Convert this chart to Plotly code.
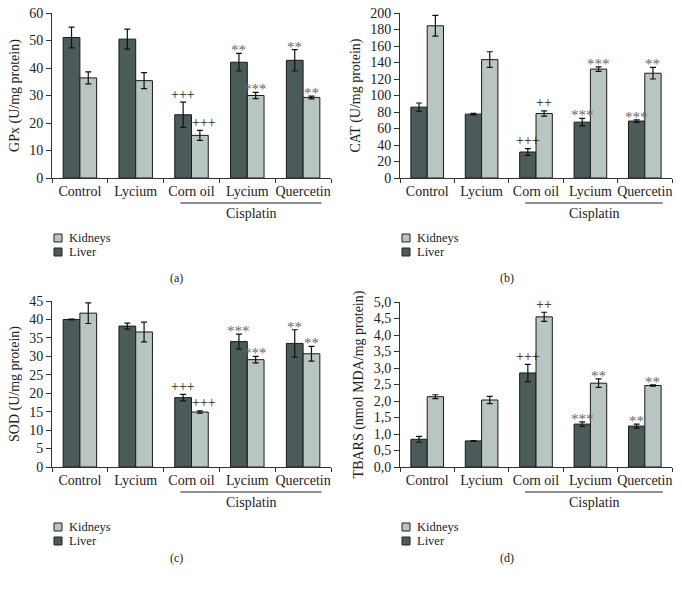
import plotly.graph_objects as go

categories = ["Control", "Lycium", "Corn oil", "Lycium", "Quercetin"]
series_names = ["Liver", "Kidneys"]

gpx_liver = [51.1, 50.5, 23.0, 42.1, 42.8]
gpx_liver_err = [3.8, 3.6, 4.6, 3.2, 3.9]
gpx_kidney = [36.4, 35.4, 15.5, 30.0, 29.3]
gpx_kidney_err = [2.2, 2.9, 1.8, 1.1, 0.5]
gpx_liver_sig = ["", "", "+++", "**", "**"]
gpx_kidney_sig = ["", "", "+++", "***", "**"]

cat_liver = [85.9, 77.4, 31.5, 67.7, 69.0]
cat_liver_err = [5.0, 1.0, 4.0, 4.6, 1.5]
cat_kidney = [184.5, 143.5, 78.2, 132.0, 127.0]
cat_kidney_err = [12.5, 9.5, 3.2, 2.8, 7.0]
cat_liver_sig = ["", "", "+++", "***", "***"]
cat_kidney_sig = ["", "", "++", "***", "**"]

sod_liver = [40.0, 38.2, 18.8, 34.0, 33.5]
sod_liver_err = [0.1, 0.8, 0.9, 2.0, 3.7]
sod_kidney = [41.7, 36.6, 14.9, 29.1, 30.7]
sod_kidney_err = [2.8, 2.7, 0.3, 0.9, 2.0]
sod_liver_sig = ["", "", "+++", "***", "**"]
sod_kidney_sig = ["", "", "+++", "***", "**"]

tbars_liver = [0.84, 0.79, 2.85, 1.30, 1.24]
tbars_liver_err = [0.09, 0.01, 0.26, 0.07, 0.06]
tbars_kidney = [2.13, 2.03, 4.55, 2.54, 2.47]
tbars_kidney_err = [0.06, 0.11, 0.14, 0.13, 0.02]
tbars_liver_sig = ["", "", "+++", "***", "**"]
tbars_kidney_sig = ["", "", "++", "**", "**"]

ticks_a = [0, 10, 20, 30, 40, 50, 60]
ticks_b = [0, 20, 40, 60, 80, 100, 120, 140, 160, 180, 200]
ticks_c = [0, 5, 10, 15, 20, 25, 30, 35, 40, 45]
ticks_d = [0, 0.5, 1.0, 1.5, 2.0, 2.5, 3.0, 3.5, 4.0, 4.5, 5.0]
ticks_d_text = ["0,0", "0,5", "1,0", "1,5", "2,0", "2,5", "3,0", "3,5", "4,0", "4,5", "5,0"]

titles = ["GPx (U/mg protein)", "CAT (U/mg protein)", "SOD (U/mg protein)",
          "TBARS (nmol MDA/mg protein)"]
panel_labels = ["(a)", "(b)", "(c)", "(d)"]

LIVER = "#4b5b59"
KIDNEY = "#b8c5c2"
FONT = "Liberation Serif"
TXT = "#222"
W, H = 682, 591  # page body margin is removed below, so the figure fills the window


def px(x):
    return x / W


def py(y):
    return 1 - y / H


panels = [
    dict(liver=gpx_liver, le=gpx_liver_err, kid=gpx_kidney, ke=gpx_kidney_err,
         ls=gpx_liver_sig, ks=gpx_kidney_sig, ticks=ticks_a, ttext=None, rng=[0, 60],
         xpx=(52, 331), ypx=(13, 178)),
    dict(liver=cat_liver, le=cat_liver_err, kid=cat_kidney, ke=cat_kidney_err,
         ls=cat_liver_sig, ks=cat_kidney_sig, ticks=ticks_b, ttext=None, rng=[0, 200],
         xpx=(400, 672), ypx=(13, 178)),
    dict(liver=sod_liver, le=sod_liver_err, kid=sod_kidney, ke=sod_kidney_err,
         ls=sod_liver_sig, ks=sod_kidney_sig, ticks=ticks_c, ttext=None, rng=[0, 45],
         xpx=(52, 331), ypx=(301, 467)),
    dict(liver=tbars_liver, le=tbars_liver_err, kid=tbars_kidney, ke=tbars_kidney_err,
         ls=tbars_liver_sig, ks=tbars_kidney_sig, ticks=ticks_d, ttext=ticks_d_text, rng=[0, 5],
         xpx=(400, 672), ypx=(302, 467)),
]

fig = go.Figure()
xidx = list(range(len(categories)))
annotations = []
shapes = []
layout = {}

for k, p in enumerate(panels):
    n = "" if k == 0 else str(k + 1)
    xa, ya = "x" + n, "y" + n
    fig.add_trace(go.Bar(
        x=xidx, y=p["liver"], name=series_names[0], xaxis=xa, yaxis=ya, showlegend=False,
        marker=dict(color=LIVER, line=dict(color="#1a1a1a", width=1)),
        error_y=dict(type="data", array=p["le"], color="#111", thickness=1.2, width=3),
    ))
    fig.add_trace(go.Bar(
        x=xidx, y=p["kid"], name=series_names[1], xaxis=xa, yaxis=ya, showlegend=False,
        marker=dict(color=KIDNEY, line=dict(color="#1a1a1a", width=1)),
        error_y=dict(type="data", array=p["ke"], color="#111", thickness=1.2, width=3),
    ))
    x0, x1 = p["xpx"]
    yt, yb = p["ypx"]
    layout["xaxis" + n] = dict(
        domain=[px(x0), px(x1)], anchor=ya, range=[-0.5, len(categories) - 0.5],
        automargin=False, ticklabeloverflow="allow",
        tickmode="array", tickvals=xidx, ticktext=categories, ticks="",
        showline=True, linecolor="#333", linewidth=1, showgrid=False, zeroline=False,
        tickfont=dict(family=FONT, size=14, color=TXT),
        minor=dict(ticks="outside", tickmode="linear", tick0=-0.5, dtick=1,
                   ticklen=4, tickcolor="#333", showgrid=False),
        fixedrange=True,
    )
    ycfg = dict(
        domain=[py(yb), py(yt)], anchor=xa, range=p["rng"],
        automargin=False, ticklabeloverflow="allow", fixedrange=True,
        tickmode="array", tickvals=p["ticks"],
        ticks="outside", ticklen=5, tickcolor="#333",
        showline=True, linecolor="#333", linewidth=1, showgrid=False, zeroline=False,
        tickfont=dict(family=FONT, size=14, color=TXT),
        title=dict(text=titles[k], font=dict(family=FONT, size=14, color=TXT), standoff=6),
    )
    if p["ttext"] is not None:
        ycfg["ticktext"] = p["ttext"]
    layout["yaxis" + n] = ycfg

    # significance marks
    for i in xidx:
        for vals, errs, sig, off, is_kid in ((p["liver"], p["le"], p["ls"], -0.15, False),
                                             (p["kid"], p["ke"], p["ks"], 0.15, True)):
            if sig[i]:
                is_plus = "+" in sig[i]
                annotations.append(dict(
                    x=i + off, y=vals[i] + errs[i], xref=xa, yref=ya,
                    text=sig[i], showarrow=False, yanchor="middle",
                    yshift=8 if is_plus else 3,
                    xshift=4 if (is_kid and sig[i] == "+++") else 0,
                    font=dict(family=FONT, size=14 if is_plus else 15,
                              color="#222" if is_plus else "#666"),
                ))
    # Cisplatin bracket
    cis_y = py(yb + 25)
    shapes.append(dict(type="line", xref=xa, yref="paper", x0=xidx[2] - 0.2, x1=xidx[4] + 0.33,
                       y0=cis_y, y1=cis_y, line=dict(color="#222", width=1)))
    annotations.append(dict(x=(xidx[2] + xidx[4]) / 2 + 0.07, y=cis_y, xref=xa, yref="paper",
                            text="Cisplatin", showarrow=False, yanchor="top", yshift=-1,
                            font=dict(family=FONT, size=14, color=TXT)))
    # manual legend (Kidneys first, Liver second)
    for j, (nm, col) in enumerate(((series_names[1], KIDNEY), (series_names[0], LIVER))):
        top = yb + 56 + 14 * j
        shapes.append(dict(type="rect", xref="paper", yref="paper",
                           x0=px(x0 + 2), x1=px(x0 + 10), y0=py(top + 8), y1=py(top),
                           fillcolor=col, line=dict(color="#222", width=1)))
        annotations.append(dict(x=px(x0 + 16), y=py(top + 4), xref="paper", yref="paper",
                                text=nm, showarrow=False, xanchor="left", yanchor="middle",
                                borderpad=0,
                                font=dict(family=FONT, size=12.5, color=TXT)))
    # panel label
    annotations.append(dict(x=px(x0 + 116), y=py(yb + 100), xref="paper", yref="paper",
                            text=panel_labels[k], showarrow=False,
                            font=dict(family=FONT, size=12, color=TXT)))

fig.update_layout(
    width=W, height=H, autosize=False,
    margin=dict(l=0, r=0, t=0, b=0, autoexpand=False),
    paper_bgcolor="white", plot_bgcolor="white",
    barmode="group", bargap=0.4, bargroupgap=0,
    showlegend=False, hovermode=False,
    annotations=annotations, shapes=shapes,
    **layout,
)

fig.write_html("out.html",
               config={"displayModeBar": False, "staticPlot": True},
               post_script="document.body.style.margin='0';document.body.style.overflow='hidden';")
